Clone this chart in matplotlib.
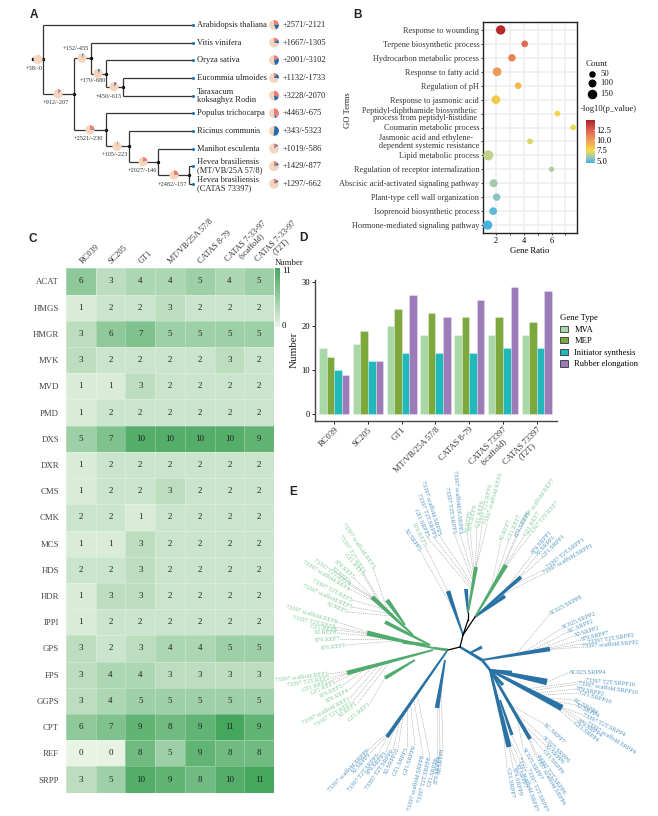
import numpy as np
import matplotlib
matplotlib.use('Agg')
import matplotlib.pyplot as plt
from matplotlib.colors import LinearSegmentedColormap, Normalize
from matplotlib.cm import ScalarMappable
from matplotlib.patches import Wedge, Circle, Patch

plt.rcParams['font.family'] = 'Liberation Serif'
plt.rcParams['font.size'] = 6.5
W, H = 658, 816

# Panel A: species tree
species = ['Arabidopsis thaliana', 'Vitis vinifera', 'Oryza sativa', 'Eucommia ulmoides',
           'Taraxacum\nkoksaghyz Rodin', 'Populus trichocarpa', 'Ricinus communis',
           'Manihot esculenta', 'Hevea brasiliensis\n(MT/VB/25A 57/8)',
           'Hevea brasiliensis\n(CATAS 73397)']
species_gain = [2571, 1667, 2001, 1132, 3228, 4463, 343, 1019, 1429, 1297]
species_loss = [2121, 1305, 3102, 1733, 2070, 675, 5323, 586, 877, 662]
tree_children = {'n0': [0, 'n1'], 'n1': ['n2', 'n5'], 'n2': [1, 'n3'], 'n3': [2, 'n4'],
                 'n4': [3, 4], 'n5': [5, 'n6'], 'n6': [6, 'n7'], 'n7': [7, 'n8'], 'n8': [8, 9]}
node_depth = {'n0': 43, 'n1': 74, 'n2': 91, 'n3': 106, 'n4': 123,
              'n5': 106, 'n6': 129, 'n7': 158, 'n8': 189}
node_gain = {'n0': 38, 'n1': 912, 'n2': 152, 'n3': 170, 'n4': 450,
             'n5': 2521, 'n6': 105, 'n7': 2027, 'n8': 2482}
node_loss = {'n0': 0, 'n1': 207, 'n2': 455, 'n3': 680, 'n4': 615,
             'n5': 230, 'n6': 223, 'n7': 146, 'n8': 157}
pie_total = 11000

# Panel B: GO enrichment
go_terms = ['Response to wounding', 'Terpene biosynthetic process', 'Hydrocarbon metabolic process',
            'Response to fatty acid', 'Regulation of pH', 'Response to jasmonic acid',
            'Peptidyl-diphthamide biosynthetic \nprocess from peptidyl-histidine ',
            'Coumarin metabolic process', 'Jasmonic acid and ethylene-\ndependent systemic resistance',
            'Lipid metabolic process', 'Regulation of receptor internalization',
            'Abscisic acid-activated signaling pathway', 'Plant-type cell wall organization',
            'Isoprenoid biosynthetic process', 'Hormone-mediated signaling pathway']
go_ratio = [2.34, 4.07, 3.15, 2.08, 3.6, 2.0, 6.42, 7.55, 4.45, 1.45, 6.0, 1.83, 2.05, 1.8, 1.4]
go_count = [145, 55, 80, 125, 55, 125, 25, 25, 25, 170, 10, 100, 80, 90, 145]
go_logp = [14.5, 12, 11, 10, 8.8, 8.2, 7.8, 7.3, 7.0, 6.5, 6.2, 5.9, 5.5, 4.9, 4.6]
count_legend = [50, 100, 150]

# Panel C: gene copy numbers
genes = ['ACAT', 'HMGS', 'HMGR', 'MVK', 'MVD', 'PMD', 'DXS', 'DXR', 'CMS', 'CMK',
         'MCS', 'HDS', 'HDR', 'IPPI', 'GPS', 'FPS', 'GGPS', 'CPT', 'REF', 'SRPP']
heat_cols = ['RC039', 'SC205', 'GT1', 'MT/VB/25A 57/8', 'CATAS 8-79',
             'CATAS 7-33-97\n(scaffold)', 'CATAS 7-33-97\n(T2T)']
copy_numbers = [[6, 3, 4, 4, 5, 4, 5], [1, 2, 2, 3, 2, 2, 2], [3, 6, 7, 5, 5, 5, 5],
                [3, 2, 2, 2, 2, 3, 2], [1, 1, 3, 2, 2, 2, 2], [1, 2, 2, 2, 2, 2, 2],
                [5, 7, 10, 10, 10, 10, 9], [1, 2, 2, 2, 2, 2, 2], [1, 2, 2, 3, 2, 2, 2],
                [2, 2, 1, 2, 2, 2, 2], [1, 1, 3, 2, 2, 2, 2], [2, 2, 3, 2, 2, 2, 2],
                [1, 3, 3, 2, 2, 2, 2], [1, 2, 2, 2, 2, 2, 2], [3, 2, 3, 4, 4, 5, 5],
                [3, 4, 4, 3, 3, 3, 3], [3, 4, 5, 5, 5, 5, 5], [6, 7, 9, 8, 9, 11, 9],
                [0, 0, 8, 5, 9, 8, 8], [3, 5, 10, 9, 8, 10, 11]]

# Panel D: gene type bars
bar_cols = ['RC039', 'SC205', 'GT1', 'MT/VB/25A 57/8', 'CATAS 8-79',
            'CATAS 73397\n(scaffold)', 'CATAS 73397\n(T2T)']
mva = [15, 16, 20, 18, 18, 18, 18]
mep = [13, 19, 24, 23, 22, 22, 21]
initiator = [10, 12, 14, 14, 14, 15, 15]
rubber = [9, 12, 27, 22, 26, 29, 28]
bar_names = ['MVA', 'MEP', 'Initiator synthesis', 'Rubber elongation']
bar_colors = ['#A8D8A8', '#7CA83E', '#20B8B8', '#9B7BB8']

# Panel E: unrooted gene tree
leaf_names = ['XJ.SRPP5', '879.REF5', 'GT1.SRPP5', '73397 T2T.SRPP5', '73397 scaffold.SRPP5',
              '73397 T2T.SRPP3', '73397 scaffold16.SRPP3', 'XJ.REF6', '879.REF9', 'GT1.REF6',
              '73397 T2T.REF6', '73397 scaffold.REF6', 'XJ.REF7', 'GT1.REF7', '879.SRPP6',
              '73397 scaffold.REF7', 'GT1.REF7', '73397 T2T.REF7', '879.SRPP1', 'XJ.SRPP1',
              'GT1.SRPP1', '73397 T2T.SRPP1', '73397 scaffold.SRPP1', 'SC025.SRPP8', 'SC025.SRPP2',
              'RC.SRPP2', 'XJ.SRPP2', '879.SRPP7', '73397 T2T.SRPP2', '73397 scaffold.SRPP2',
              'SC025.SRPP4', '73397 T2T.SRPP10', '73397 scaffold.SRPP10', '879.SRPP2', 'GT1.SRPP10',
              'RC.SRPP4', 'XJ.SRPP4', '73397 T2T.SRPP4', '73397 scaffold.SRPP4', '879.SRPP4',
              'GT1.SRPP4', 'RC.SRPP7', 'SC025.SRPP6', 'XJ.SRPP6', 'GT1.SRPP6',
              '73397 T2T.SRPP6', '73397 scaffold.SRPP6', 'SC025.SRPP7', '73397 T2T.SRPP7',
              '73397 scaffold.SRPP7', 'XJ.SRPP7', '879.SRPP9', 'GT1.SRPP7', 'XJ.SRPP8',
              '879.SRPP4', 'GT1.SRPP8', '73397 T2T.SRPP8', '73397 scaffold.SRPP8', 'GT1.SRPP9',
              'GT1.SRPP3', 'XJ.SRPP10', '73397 T2T.SRPP9', '879.SRPP3', '73397 T2T.SRPP3',
              'XJ.SRPP9', '73397 scaffold.SRPP9', 'GT1.REF1', 'XJ.REF1', '73397 T2T.REF1',
              '73397 scaffold.REF1', '879.REF4', '879.REF3', 'GT1.REF3', 'GT1.REF2',
              '73397 T2T.REF2', '73397 scaffold.REF2', '879.REF6', '879.REF7', 'XJ.REF8',
              'GT1.REF8', '73397 T2T.REF8', '73397 scaffold.REF8', 'XJ.REF5', '73397 scaffold.REF5',
              '73397 T2T.REF5', '73397 scaffold.REF4', '73397 T2T.REF4', 'XJ.REF3', '879.REF5',
              'GT1.REF3', '73397 T2T.REF3', '73397 scaffold.REF3']
leaf_x = [420, 425, 428, 434, 439, 454, 460, 467, 470, 477, 482, 487, 501, 509, 516, 523, 525, 530,
          533, 537, 543, 547, 543, 550, 562, 568, 574, 581, 588, 582, 570, 585, 578, 576, 579,
          574, 576, 583, 587, 578, 574, 544, 543, 545, 543, 537, 535, 523, 527, 518, 516, 513, 507,
          443, 440, 437, 430, 423, 415, 407, 398, 393, 386, 378, 370, 368,
          370, 358, 352, 350, 349, 343, 336, 328, 330, 328, 346, 340, 337, 337, 335, 337,
          348, 352, 352, 349, 350, 350, 354, 363, 363, 373]
leaf_y = [551, 546, 538, 537, 535, 533, 533, 533, 530, 527, 527, 525, 540, 539, 536, 523, 535, 535,
          553, 555, 557, 568, 574, 614, 628, 632, 636, 640, 643, 647, 672, 681, 684, 689, 693,
          700, 705, 715, 723, 721, 723, 724, 737, 745, 750, 755, 755, 748, 768, 757, 763, 768, 768,
          748, 755, 757, 757, 755, 745, 747, 748, 750, 752, 755, 753, 750,
          703, 703, 703, 698, 690, 685, 682, 682, 678, 674, 645, 639, 633, 630, 627, 622,
          612, 607, 600, 589, 585, 583, 578, 575, 572, 568]
leaf_rot = [-56, -63, -66, -70, -73, -81, -85, 82, 78, 78, 77, 74, 68, 67, 63, 55, 60, 50,
            50, 46, 45, 38, 30, 28, 23, 23, 17, 14, 9, 4, 0, -5, -9, -12, -17,
            -30, -27, -26, -32, -33, -37, -43, -44, -45, -50, -55, -60, -60, -66, -72, -70, -76, -80,
            82, 83, 75, 77, 76, 72, 65, 64, 56, 50, 51, 48, 46,
            40, 37, 32, 28, 27, 26, 25, 19, 10, 7, 7, 4, 0, -8, -13, -17,
            -22, -24, -27, -31, -35, -40, -42, -50, -58, -56]
leaf_blue = [1, 0, 1, 1, 1, 1, 1, 0, 0, 0, 0, 0, 0, 0, 1, 0, 0, 0,
             1, 1, 1, 1, 1, 1, 1, 1, 1, 1, 1, 1, 1, 1, 1, 1, 1,
             1, 1, 1, 1, 1, 1, 1, 1, 1, 1, 1, 1, 1, 1, 1, 1, 1, 1,
             1, 1, 1, 1, 1, 1, 1, 1, 1, 1, 1, 1, 1,
             0, 0, 0, 0, 0, 0, 0, 0, 0, 0, 0, 0, 0, 0, 0, 0,
             0, 0, 0, 0, 0, 0, 0, 0, 0, 0]
# x0, y0, x1, y1, base width, tip width
blue_branches = [(463, 635, 448, 591, .8, 3.5), (468, 613, 466, 589, 1, 3), (475, 617, 521, 577, 1, 3),
                 (475, 617, 505, 596, 1, 3), (460, 647, 482, 660, 1.5, 2.5), (470, 653, 482, 647, 1, 2.5),
                 (482, 660, 550, 649, 1, 3.5), (482, 660, 490, 670, 2, 2), (490, 670, 512, 672, 1, 2),
                 (490, 670, 547, 682, 1.5, 5), (490, 670, 562, 708, 1.5, 5), (490, 670, 503, 685, 1, 2.5),
                 (490, 670, 530, 739, 1.5, 3), (490, 670, 509, 747, 1.5, 4), (500, 700, 512, 735, 1, 2.5),
                 (447, 651, 387, 737, 1, 3), (445, 660, 437, 708, 1, 3.5)]
green_branches = [(468, 613, 476, 567, 1, 3), (475, 617, 506, 565, 1, 3.5), (448, 650, 433, 648, 2, 2),
                  (433, 648, 367, 633, 1, 4), (430, 645, 403, 642, 1, 3), (430, 645, 385, 622, 1, 3),
                  (413, 635, 372, 597, 1, 3.5), (405, 625, 387, 600, 1, 3.5), (433, 650, 347, 673, 1, 3.5),
                  (415, 660, 385, 678, 1, 3)]
black_branches = [(448, 650, 460, 647), (460, 647, 463, 635), (463, 635, 468, 620), (468, 620, 468, 613),
                  (463, 635, 475, 617)]


def px_axes(left, top, right, bottom):
    return fig.add_axes([left / W, 1 - bottom / H, (right - left) / W, (bottom - top) / H])


def marker_size(count):
    # dot diameter in px grows with the count, scatter wants points squared
    return ((5 + 0.03 * np.asarray(count)) * 0.72) ** 2


def draw_pie(ax, x, y, r, gain, loss):
    g = gain / pie_total * 360
    l = loss / pie_total * 360
    ax.add_patch(Circle((x, y), r, fc='#F5D5BC', ec='none', zorder=3))
    ax.add_patch(Wedge((x, y), r, -90, -90 + g, fc='#F07A7A', ec='none', zorder=4))
    ax.add_patch(Wedge((x, y), r, -90 + g, -90 + g + l, fc='#1F6DB0', ec='none', zorder=4))


fig = plt.figure(figsize=(W / 100, H / 100), dpi=100)

# overlay in pixel units for the two trees and the panel letters
over = fig.add_axes([0, 0, 1, 1], zorder=5)
over.set_xlim(0, W)
over.set_ylim(H, 0)
over.axis('off')
over.patch.set_alpha(0)

for letter, lx, ly in [('A', 34, 15), ('B', 357, 15), ('C', 33, 239), ('D', 303, 238), ('E', 293, 492)]:
    over.text(lx, ly, letter, family='Liberation Sans', weight='bold', fontsize=8.5,
              ha='center', va='center', color='#222222')

# --- A ---
tip_x = 193
row_y = [25 + 17.65 * i for i in range(len(species))]
node_pos = {}


def layout(node):
    if isinstance(node, int):
        return tip_x, row_y[node]
    pts = [layout(c) for c in tree_children[node]]
    y = (pts[0][1] + pts[1][1]) / 2
    x = node_depth[node]
    node_pos[node] = (x, y)
    over.plot([x, x], [pts[0][1], pts[1][1]], color='#333333', lw=0.9, solid_capstyle='butt')
    for px, py in pts:
        over.plot([x, px], [py, py], color='#333333', lw=0.9, solid_capstyle='butt')
    over.plot(x, y, 'o', ms=1.4, color='black', zorder=2)
    return x, y


layout('n0')
over.plot([33, 43], [node_pos['n0'][1]] * 2, color='#333333', lw=0.9)
over.plot(33, node_pos['n0'][1], 'o', ms=1.6, color='black')
over.plot([tip_x] * len(row_y), row_y, 'o', ms=1.2, color='#1F6DB0', zorder=2)

for i, name in enumerate(species):
    over.text(197, row_y[i], name, fontsize=6, ha='left', va='center', linespacing=1.0, color='#222222')
    draw_pie(over, 274, row_y[i], 4.9, species_gain[i], species_loss[i])
    over.text(283, row_y[i], f'+{species_gain[i]}/-{species_loss[i]}', fontsize=6, ha='left', va='center',
              color='#222222')

node_pie_x = {'n0': 38, 'n1': 58, 'n2': 82, 'n3': 98, 'n4': 114, 'n5': 90, 'n6': 117, 'n7': 143, 'n8': 174}
node_label_xy = {'n0': (34, 68), 'n1': (56, 103), 'n2': (76, 49), 'n3': (93, 81), 'n4': (109, 96),
                 'n5': (88, 138), 'n6': (115, 154), 'n7': (142, 170), 'n8': (172, 184)}
for node, nx in node_pie_x.items():
    draw_pie(over, nx, node_pos[node][1], 4.6, node_gain[node], node_loss[node])
    over.text(*node_label_xy[node], f'+{node_gain[node]}/-{node_loss[node]}', fontsize=4.5,
              ha='center', va='center', color='#333333')

# --- B ---
go_cmap = LinearSegmentedColormap.from_list('go', [(0, '#3CAFE3'), (0.105, '#8CC4C4'), (0.2, '#C2D18B'),
                                                   (0.295, '#F4DC45'), (0.53, '#EE9B58'),
                                                   (0.77, '#DD5E50'), (1, '#AE1F24')])
go_norm = Normalize(4.4, 14.9)
ax_b = px_axes(483.3, 22, 577, 233)
ypos = np.arange(len(go_terms))
ax_b.set_axisbelow(True)
ax_b.grid(True, color='#EFEFEF', lw=1.2)
ax_b.scatter(go_ratio, ypos, s=marker_size(go_count), c=go_logp, cmap=go_cmap, norm=go_norm,
             linewidths=0, zorder=3)
ax_b.set_xlim(1.09, 7.83)
ax_b.set_ylim(14.57, -0.57)
ax_b.set_xticks(range(2, 8))
ax_b.set_xticklabels(['2', '', '4', '', '6', ''])
ax_b.set_yticks(ypos)
ax_b.set_yticklabels(go_terms, linespacing=0.9, color='#333333')
ax_b.get_yticklabels()[6].set_multialignment('right')
ax_b.get_yticklabels()[8].set_multialignment('left')
ax_b.tick_params(length=1.5, width=0.5, pad=1.5, labelsize=5.95)
for sp in ax_b.spines.values():
    sp.set_linewidth(1.0)
    sp.set_color('#222222')
ax_b.set_xlabel('Gene Ratio', fontsize=6.2, labelpad=1)
over.text(348, 110, 'GO Terms', rotation=90, fontsize=6.2, ha='center', va='center', color='#222222')

over.text(597, 64, 'Count', fontsize=6.5, ha='center', va='center', color='#222222')
for cnt, ly in zip(count_legend, [74, 83, 94]):
    over.scatter([592], [ly], s=marker_size(cnt), color='black', linewidths=0)
    over.text(600, ly, str(cnt), fontsize=6.2, ha='left', va='center', color='#222222')
over.text(581, 109, '-log10(p_value)', fontsize=6.2, ha='left', va='center', color='#222222')
cax_b = px_axes(586, 120, 595, 163)
cb_b = fig.colorbar(ScalarMappable(go_norm, go_cmap), cax=cax_b)
cb_b.set_ticks([5, 7.5, 10, 12.5], labels=['5.0', '7.5', '10.0', '12.5'])
cb_b.outline.set_visible(False)
cb_b.ax.tick_params(length=1.5, width=0.4, color='white', direction='in', pad=1, labelsize=6.2)

# --- C ---
heat_cmap = LinearSegmentedColormap.from_list('heat', ['#E8F3E4', '#45A65D'])
ax_c = px_axes(66, 268.3, 274, 792.7)
copy_arr = np.array(copy_numbers)
ax_c.pcolormesh(copy_arr, cmap=heat_cmap, vmin=0, vmax=11, edgecolors='#FFFFFF40', linewidth=0.4)
ax_c.set_ylim(len(genes), 0)
for r, row in enumerate(copy_numbers):
    for c, v in enumerate(row):
        ax_c.text(c + 0.5, r + 0.5, str(v), ha='center', va='center', fontsize=6.5, color='#222222')
ax_c.set_yticks(np.arange(len(genes)) + 0.5)
ax_c.set_yticklabels(genes, color='#444444')
ax_c.xaxis.tick_top()
ax_c.set_xticks(np.arange(7) + 0.5)
ax_c.set_xticklabels(heat_cols, rotation=45, ha='left', va='center', rotation_mode='anchor',
                     ma='center', linespacing=0.85, color='#333333')
ax_c.tick_params(length=0, pad=4, labelsize=6.0)
ax_c.tick_params(axis='y', pad=5, labelsize=6.3)
for sp in ax_c.spines.values():
    sp.set_visible(False)

cax_c = px_axes(275, 268, 280, 327)
cb_c = fig.colorbar(ScalarMappable(Normalize(0, 11), heat_cmap), cax=cax_c)
cb_c.set_ticks([0.4, 10.6], labels=['0', '11'])
cb_c.outline.set_visible(False)
cb_c.ax.tick_params(length=0, pad=1.5, labelsize=6.3)
over.text(275, 263, 'Number', fontsize=6.3, ha='left', va='center', color='#222222')

# --- D ---
ax_d = px_axes(315, 280, 557, 421)
xpos = np.arange(len(bar_cols))
bar_w = 0.225
handles = []
for k, (vals, col, name) in enumerate(zip([mva, mep, initiator, rubber], bar_colors, bar_names)):
    ax_d.bar(xpos + (k - 1.5) * bar_w, vals, bar_w, color=col, edgecolor='#FFFFFF66', linewidth=0.5)
    handles.append(Patch(facecolor=col, edgecolor='#333333', linewidth=0.6, label=name))
ax_d.set_xlim(-0.57, 6.6)
ax_d.set_ylim(-1.52, 30.5)
ax_d.set_yticks([0, 10, 20, 30])
ax_d.set_xticks(xpos)
ax_d.set_xticklabels(bar_cols, rotation=45, ha='right', rotation_mode='anchor', ma='center',
                     linespacing=0.85, color='#333333')
ax_d.tick_params(length=2, width=0.6, pad=1.5, labelsize=6.1)
ax_d.spines['top'].set_visible(False)
ax_d.spines['right'].set_visible(False)
ax_d.spines['left'].set_linewidth(1.0)
ax_d.spines['bottom'].set_linewidth(1.0)
ax_d.spines['left'].set_color('#444444')
ax_d.spines['bottom'].set_color('#444444')
ax_d.patch.set_alpha(0)
over.text(294, 350, 'Number', rotation=90, fontsize=8, ha='center', va='center', color='#222222')
ax_d.legend(handles=handles, title='Gene Type', loc='upper left', alignment='left',
            bbox_to_anchor=(560 / W, 1 - 314 / H), bbox_transform=fig.transFigure, frameon=False,
            borderpad=0, borderaxespad=0, handlelength=1.0, handleheight=0.75, handletextpad=0.7,
            labelspacing=0.42, fontsize=6.1, title_fontsize=6.3)

# --- E ---
blue_txt, green_txt = '#4C92BF', '#82C99A'
blue_br, green_br = '#2A72A4', '#52AB6E'


def draw_branch(b, color):
    x0, y0, x1, y1, w0, w1 = b
    w0, w1 = w0 + 0.8, w1 * 1.3
    dx, dy = x1 - x0, y1 - y0
    n = np.hypot(dx, dy)
    nx, ny = -dy / n / 2, dx / n / 2
    over.fill([x0 + nx * w0, x1 + nx * w1, x1 - nx * w1, x0 - nx * w0],
              [y0 + ny * w0, y1 + ny * w1, y1 - ny * w1, y0 - ny * w0],
              color=color, lw=0, zorder=3)


for b in blue_branches:
    draw_branch(b, blue_br)
for b in green_branches:
    draw_branch(b, green_br)
for x0, y0, x1, y1 in black_branches:
    over.plot([x0, x1], [y0, y1], color='black', lw=0.9, zorder=4)

all_branches = blue_branches + green_branches

# each leaf hangs on its nearest branch, leaders spread along the outer half of it
leaf_groups = {}
for i, (lx, ly) in enumerate(zip(leaf_x, leaf_y)):
    best, best_d = 0, 1e9
    for j, (x0, y0, x1, y1, _, _) in enumerate(all_branches):
        t = ((lx - x0) * (x1 - x0) + (ly - y0) * (y1 - y0)) / ((x1 - x0) ** 2 + (y1 - y0) ** 2)
        t = min(max(t, 0.5), 1)
        d = np.hypot(lx - x0 - t * (x1 - x0), ly - y0 - t * (y1 - y0))
        if d < best_d:
            best, best_d = j, d
    leaf_groups.setdefault(best, []).append(i)

for j, members in leaf_groups.items():
    x0, y0, x1, y1, _, _ = all_branches[j]
    ang0 = np.arctan2(y1 - y0, x1 - x0)
    off = [abs(np.angle(np.exp(1j * (np.arctan2(leaf_y[i] - y0, leaf_x[i] - x0) - ang0)))) for i in members]
    order = [members[k] for k in np.argsort(off)[::-1]]
    ts = np.linspace(0.5, 1, len(order)) if len(order) > 1 else [1]
    for i, t in zip(order, ts):
        over.plot([leaf_x[i], x0 + t * (x1 - x0)], [leaf_y[i], y0 + t * (y1 - y0)],
                  color='#AAAAAA', lw=0.5, ls=(0, (1.5, 1.2)), zorder=2)

for name, lx, ly, rot, is_blue in zip(leaf_names, leaf_x, leaf_y, leaf_rot, leaf_blue):
    over.text(lx, ly, name, fontsize=4.5, rotation=rot, rotation_mode='anchor',
              ha='right' if lx <= 460 else 'left', va='center',
              color=blue_txt if is_blue else green_txt)

fig.savefig('out.png', dpi=100)
